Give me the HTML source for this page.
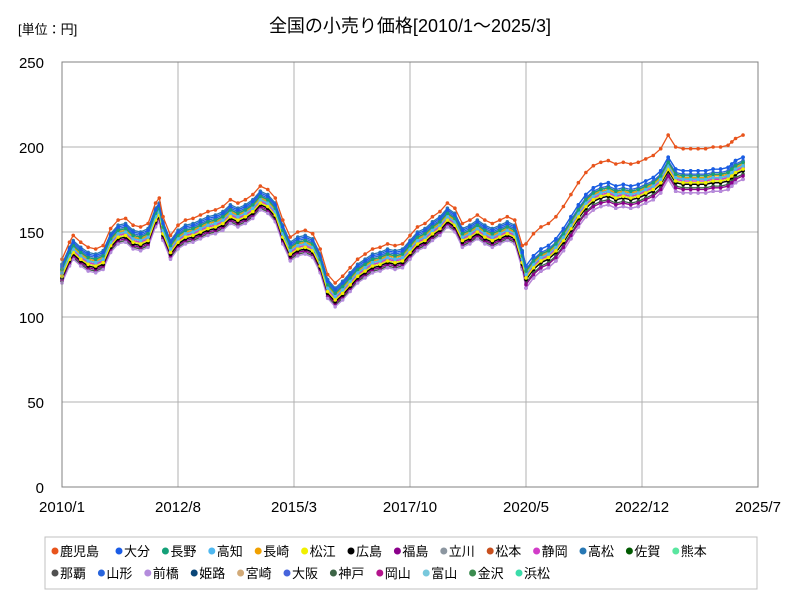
<!DOCTYPE html>
<html><head><meta charset="utf-8">
<style>
body{margin:0;background:#fff;font-family:"Liberation Sans","Noto Sans CJK JP",sans-serif;}
svg text{font-family:"Liberation Sans","Noto Sans CJK JP",sans-serif;}
</style></head>
<body>
<svg id="chart" width="800" height="600" viewBox="0 0 800 600">
<text x="18" y="34" font-size="13" fill="#000">[単位：円]</text>
<text x="410" y="32" font-size="18" text-anchor="middle" fill="#000">全国の小売り価格[2010/1～2025/3]</text>
<g id="grid"></g><g id="series"></g><g id="axes"></g><g id="legend"></g>
</svg>
<script>
const yTicks=[0,50,100,150,200,250];
const xTickLabels=["2010/1","2012/8","2015/3","2017/10","2020/5","2022/12","2025/7"];
const xTickMonths=[0,31,62,93,124,155,186];
const months=[0,2,3,5,7,9,11,13,15,17,19,21,23,25,26,27,29,31,33,35,37,39,41,43,45,47,49,51,53,55,57,59,61,63,65,67,69,71,73,75,77,79,81,83,85,87,89,91,93,95,97,99,101,103,105,107,109,111,113,115,117,119,121,123,124,126,128,130,132,134,136,138,140,142,144,146,148,150,152,154,156,158,160,162,164,166,168,170,172,174,176,178,179,180,182];
const basePrice=[127,137,141,137,134,133,135,145,150,151,147,146,148,160,163,152,141,147,150,151,153,155,156,158,162,160,162,165,170,168,163,150,140,143,144,142,133,118,113,117,122,127,130,133,134,136,135,136,141,146,148,152,155,160,157,148,150,153,150,148,150,152,150,135,126,132,136,138,142,148,155,162,168,172,174,175,173,174,173,174,176,178,182,190,183,182,182,182,182,183,183,184,186,188,190];
const cities=["鹿児島","大分","長野","高知","長崎","松江","広島","福島","立川","松本","静岡","高松","佐賀","熊本","那覇","山形","前橋","姫路","宮崎","大阪","神戸","岡山","富山","金沢","浜松"];
const cityOffsets=[7,3,1,-1,0,-3,-4,-5,-1,1,-2,4,-1,0,-4,2,-7,0,-2,1,-6,-6,-4,-3,-2];
const cityLateOffsets=[10,1,0,0,0,0,0,-2,0,0,0,0,0,0,0,0,-2,0,0,0,0,-3,0,0,0];
const colors=["#e8541c","#1a5ce6","#14a078","#4fb8f0","#f0a000","#f0f000","#000000","#8b008b","#8c96a0","#c8501e","#d23cc8","#2878b4","#005a00","#5ae6a0","#505050","#2864dc","#b48cdc","#0a4678","#d2aa78","#4664dc","#3c6446","#b4148c","#78c8dc","#3c8c50","#3cdcaa"];
const NS="http://www.w3.org/2000/svg";
const X0=62,X1=758,Y0=487,Y1=62;
const xs=m=>X0+(X1-X0)*m/186;
const ys=v=>Y0-(Y0-Y1)*v/250;
function mk(t,a,p){const e=document.createElementNS(NS,t);for(const k in a)e.setAttribute(k,a[k]);p.appendChild(e);return e;}
const grid=document.getElementById('grid'),axes=document.getElementById('axes'),ser=document.getElementById('series'),leg=document.getElementById('legend');
yTicks.forEach(v=>{const l=mk('line',{x1:X0,x2:X1,y1:ys(v),y2:ys(v),stroke:'#b0b0b0','stroke-width':1},grid);


const t=mk('text',{x:X0-18,y:ys(v)+6,'font-size':15,'text-anchor':'end'},axes);t.textContent=v;

});
xTickMonths.forEach((m,i)=>{const l=mk('line',{x1:xs(m),x2:xs(m),y1:Y1,y2:Y0,stroke:'#b0b0b0','stroke-width':1},grid);


const t=mk('text',{x:xs(m),y:Y0+25,'font-size':15,'text-anchor':'middle'},axes);t.textContent=xTickLabels[i];

});
const fr=mk('rect',{x:X0,y:Y1,width:X1-X0,height:Y0-Y1,fill:'none',stroke:'#808080'},axes);


function val(c,i){return basePrice[i]+cityOffsets[c]+(months[i]>=124?cityLateOffsets[c]:0);}
for(let c=cities.length-1;c>=0;c--){
 const g=mk('g',{},ser);
 
 
 const pts=months.map((m,i)=>xs(m).toFixed(1)+','+ys(val(c,i)).toFixed(1)).join(' ');
 mk('polyline',{points:pts,fill:'none',stroke:colors[c],'stroke-width':1.3},g);
 months.forEach((m,i)=>{const p=mk('circle',{cx:xs(m),cy:ys(val(c,i)),r:1.8,fill:colors[c]},g);
 
 });
}
const lb=mk('rect',{x:45,y:537,width:712,height:52,fill:'#fff',stroke:'#c0c0c0'},leg);


cities.forEach((n,i)=>{
 const row=i<14?0:1, col=row?i-14:i;
 let x=row?52+col*46.4:(col==0?52:116+(col-1)*46.4);
 const y=row?573:551;
 const g=mk('g',{},leg);
 
 
 mk('circle',{cx:x+3,cy:y,r:3.5,fill:colors[i]},g);
 const t=mk('text',{x:x+8,y:y+5,'font-size':13},g);t.textContent=n;
});
</script>
</body></html>
